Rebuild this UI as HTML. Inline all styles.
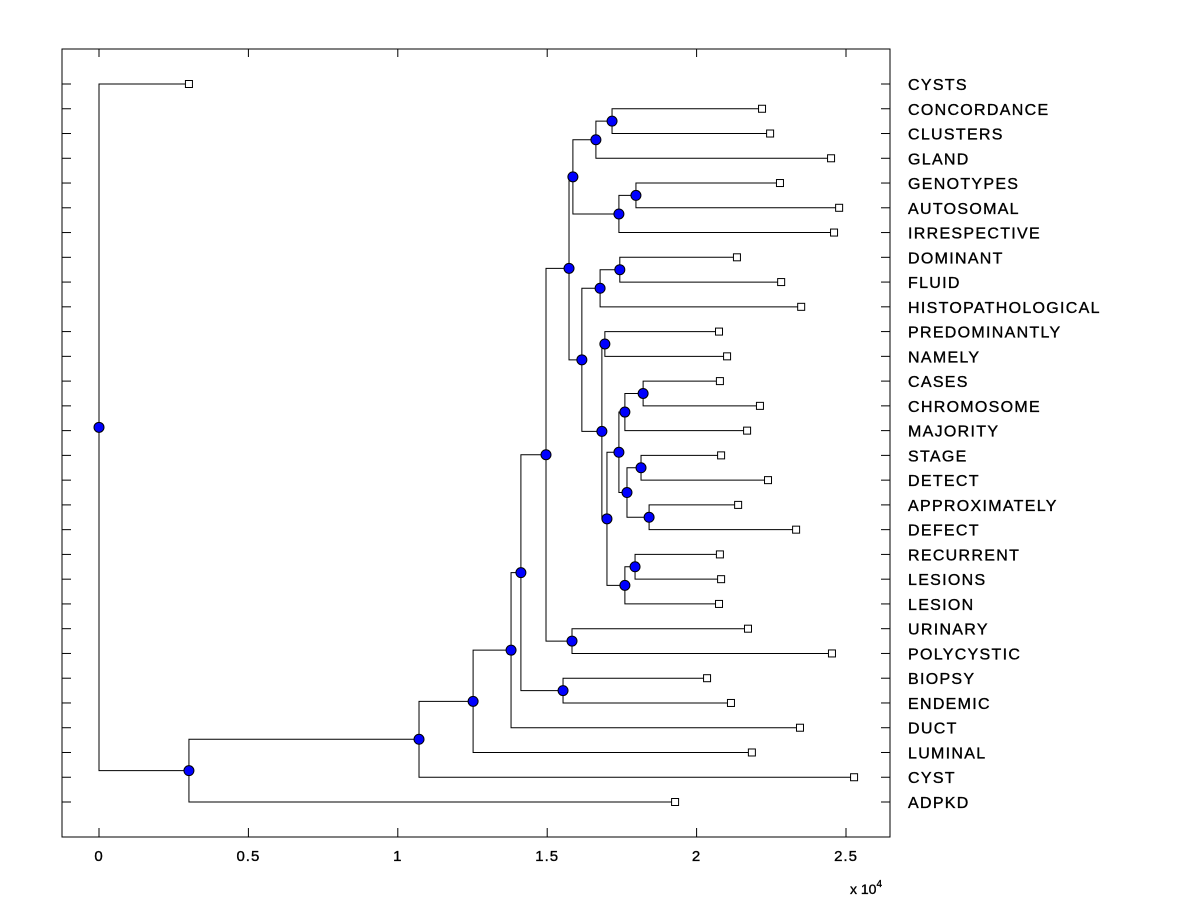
<!DOCTYPE html>
<html><head><meta charset="utf-8"><style>
body{margin:0;background:#fff}
svg text{font-family:"Liberation Sans",Arial,sans-serif;fill:#000;stroke:#000;stroke-width:0.35}
</style></head><body>
<svg id="chart" width="1200" height="900" viewBox="0 0 1200 900" xmlns="http://www.w3.org/2000/svg">
<rect x="0" y="0" width="1200" height="900" fill="#fff"/>
<g id="axes"></g>
<g id="links"></g>
<g id="marks"></g>
<g id="labels"></g>
</svg>
<script>
const leafNames=["CYSTS","CONCORDANCE","CLUSTERS","GLAND","GENOTYPES","AUTOSOMAL","IRRESPECTIVE","DOMINANT","FLUID","HISTOPATHOLOGICAL","PREDOMINANTLY","NAMELY","CASES","CHROMOSOME","MAJORITY","STAGE","DETECT","APPROXIMATELY","DEFECT","RECURRENT","LESIONS","LESION","URINARY","POLYCYSTIC","BIOPSY","ENDEMIC","DUCT","LUMINAL","CYST","ADPKD"];
const leafValues=[0.301,2.219,2.246,2.45,2.279,2.477,2.46,2.135,2.283,2.35,2.075,2.102,2.078,2.212,2.169,2.082,2.239,2.139,2.333,2.078,2.082,2.075,2.172,2.453,2.035,2.115,2.346,2.185,2.527,1.928];
const mergeLeft=["CONCORDANCE","n0","GENOTYPES","n2","n1","DOMINANT","n5","PREDOMINANTLY","CASES","n8","STAGE","APPROXIMATELY","n10","n9","RECURRENT","n14","n13","n7","n6","n4","URINARY","n19","BIOPSY","n21","n23","n24","n25","n26","CYSTS"];
const mergeRight=["CLUSTERS","GLAND","AUTOSOMAL","IRRESPECTIVE","n3","FLUID","HISTOPATHOLOGICAL","NAMELY","CHROMOSOME","MAJORITY","DETECT","DEFECT","n11","n12","LESIONS","LESION","n15","n16","n17","n18","POLYCYSTIC","n20","ENDEMIC","n22","DUCT","LUMINAL","CYST","ADPKD","n27"];
const mergeHeights=[1.717,1.663,1.797,1.740,1.586,1.743,1.677,1.693,1.821,1.760,1.814,1.841,1.767,1.740,1.794,1.760,1.700,1.683,1.616,1.573,1.583,1.496,1.553,1.412,1.379,1.252,1.071,0.301,0];
const xTicks=[0,0.5,1,1.5,2,2.5];
const xTickLabels=["0","0.5","1","1.5","2","2.5"];

const NS="http://www.w3.org/2000/svg";
const L=62,R=890,T=49,B=837;
const xs=v=>99+v*298.8;
const ys=i=>84+i*(802-84)/(leafNames.length-1);
function mk(tag,attrs,parent){const e=document.createElementNS(NS,tag);for(const k in attrs)e.setAttribute(k,attrs[k]);parent.appendChild(e);return e;}
const axes=document.getElementById('axes'),links=document.getElementById('links'),marks=document.getElementById('marks'),labels=document.getElementById('labels');

let box=mk('rect',{x:L,y:T,width:R-L,height:B-T,fill:'none',stroke:'#000','stroke-width':1},axes);


xTicks.forEach((t,i)=>{
  const x=xs(t);
  let a=mk('line',{x1:x,y1:B,x2:x,y2:B-9,stroke:'#000'},axes);
  
  
  let b=mk('line',{x1:x,y1:T,x2:x,y2:T+8,stroke:'#000'},axes);
  
  
  let tx=mk('text',{x:x,y:861,'font-size':15,'text-anchor':'middle','letter-spacing':1},axes);
  tx.textContent=xTickLabels[i];
  
  
});
let ex=mk('text',{x:850,y:894,'font-size':14},axes);
ex.innerHTML='x 10<tspan dy="-7" font-size="10">4</tspan>';



const pos={};
leafNames.forEach((n,i)=>{
  pos[n]={x:xs(leafValues[i]),y:ys(i)};
  let a=mk('line',{x1:L,y1:ys(i),x2:L+9,y2:ys(i),stroke:'#000'},axes);
  
  
  let b=mk('line',{x1:R,y1:ys(i),x2:R-9,y2:ys(i),stroke:'#000'},axes);
  
  
  let t=mk('text',{x:908,y:ys(i)+6,'font-size':16,'letter-spacing':1.3},labels);
  t.textContent=n;
  
  
});
const nodes=[];
mergeLeft.forEach((l,i)=>{
  const a=pos[l],b=pos[mergeRight[i]],x=xs(mergeHeights[i]),y=(a.y+b.y)/2;
  pos['n'+i]={x,y};
  let p=mk('path',{d:`M${a.x},${a.y}H${x}V${b.y}H${b.x}`,fill:'none',stroke:'#000','stroke-width':1},links);
  
  
  nodes.push({x,y});
});
leafNames.forEach(n=>{
  const p=pos[n];
  let s=mk('rect',{x:p.x-3.5,y:p.y-3.5,width:7,height:7,fill:'#fff',stroke:'#000'},marks);
  
  
});
nodes.forEach(p=>{
  let c=mk('circle',{cx:p.x,cy:p.y,r:5,fill:'#0000ff',stroke:'#000'},marks);
  
  
});
</script>
</body></html>
